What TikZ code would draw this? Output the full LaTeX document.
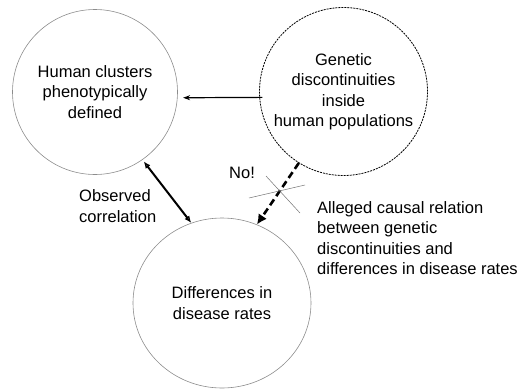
\documentclass[tikz,border=0pt]{standalone}
\usepackage{fontspec}
\setmainfont{Liberation Sans}
\usetikzlibrary{shapes.geometric,arrows.meta,positioning,calc}
\tikzset{
bubble/.style={circle,draw=black!45,line width=0.6pt,minimum size=165pt,inner sep=0pt,align=center},
fuzzybubble/.style={circle,draw=black,line width=0.8pt,dash pattern=on 2pt off 1pt,minimum size=168pt,inner sep=0pt,align=center},
wideblob/.style={ellipse,draw=black!45,line width=0.6pt,minimum width=178pt,minimum height=170pt,inner sep=0pt,align=center},
plainlbl/.style={inner sep=0pt,align=left,anchor=west},
linkarr/.style={line width=1.2pt,-{Stealth[length=7pt,width=5pt]}},
corrarr/.style={line width=2pt,{Latex[open,length=7pt,width=6pt]}-{Latex[open,length=7pt,width=6pt]}},
claimarr/.style={line width=2.6pt,dash pattern=on 7pt off 4pt,-{Latex[length=10pt,width=10pt]}},
strike/.style={draw=black!55,line width=0.5pt}
}
\begin{document}
\begin{tikzpicture}[x=1pt,y=-1pt,font=\fontsize{16.5}{20.5}\selectfont]
\useasboundingbox (0,0) rectangle (523,389);
\node[bubble] (hum) at (95,92) {Human clusters\\phenotypically\\defined};
\node[fuzzybubble] (gen) at (343.5,91.5) {Genetic\\discontinuities\\inside\\human populations};
\node[wideblob] (dis) at (222,303) {Differences in\\disease rates};
\node[inner sep=0pt] (no) at (242,173) {No!};
\node[plainlbl] (obs) at (79,206) {Observed\\correlation};
\node[plainlbl] (alleged) at (317,238) {Alleged causal relation\\between genetic\\discontinuities and\\differences in disease rates};
% connectors
\draw[linkarr,shorten <=-3pt,shorten >=5.5pt] (gen.184) -- (hum.-4);
\draw[corrarr,shorten <=2pt] (hum.-55) -- (dis.111);
\draw[claimarr] (gen.-122) -- (dis.66);
% crossing out the claimed link
\coordinate (x) at (282,190);
\draw[strike] ($(x)+(-33,8)$) -- ($(x)+(23,-5)$);
\draw[strike] ($(x)+(-16,-14)$) -- ($(x)+(18,23)$);
\end{tikzpicture}
\end{document}
